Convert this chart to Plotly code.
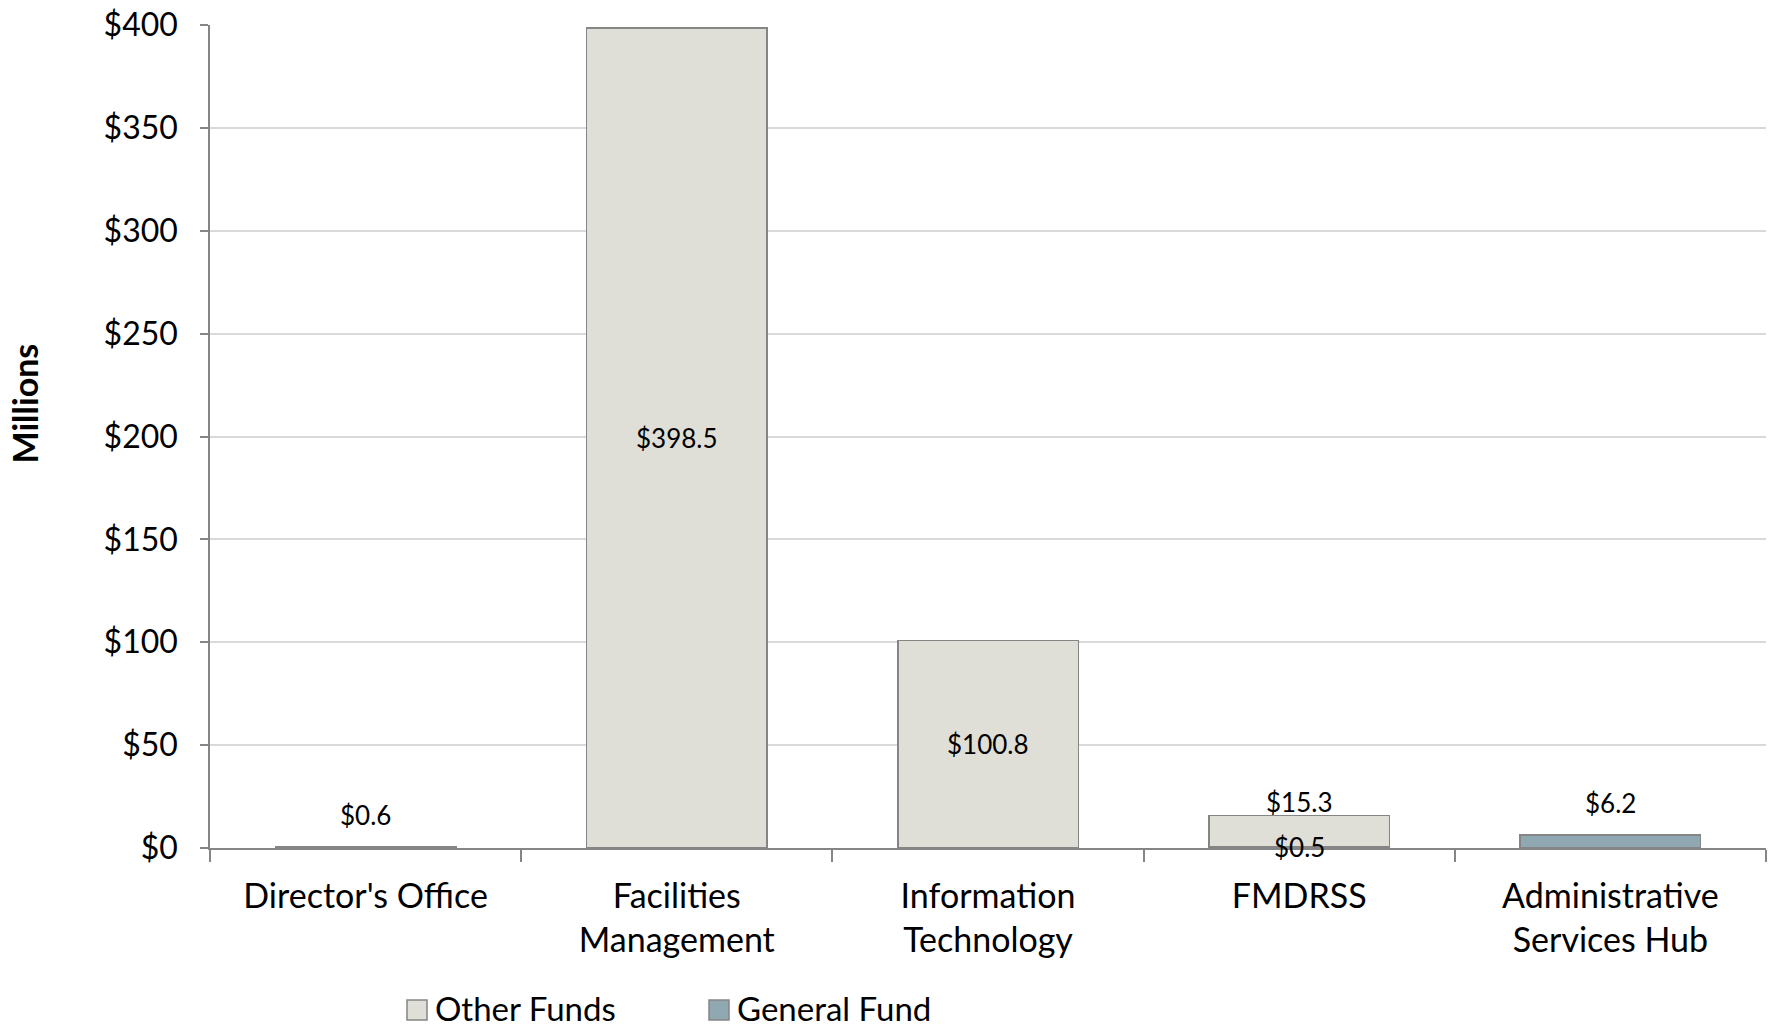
import plotly.graph_objects as go

# Budget by program, in millions of dollars
categories = ["Director's Office", "Facilities<br>Management", "Information<br>Technology",
              "FMDRSS", "Administrative<br>Services Hub"]
general_fund = [0.6, None, None, 0.5, 6.2]
other_funds = [None, 398.5, 100.8, 15.3, None]

y_ticks = [0, 50, 100, 150, 200, 250, 300, 350, 400]
y_tick_labels = ["$" + str(v) for v in y_ticks]

GF_COLOR = "#8FA8B2"
OF_COLOR = "#DFDFD7"
EDGE = "#858585"
FONT = "Lato"

# Plot-area geometry in pixels
W, H = 1772, 1031
M_L, M_R, M_T, M_B = 210, 6, 25, 183
PW = W - M_L - M_R
PH = H - M_T - M_B

fig = go.Figure()
fig.add_trace(go.Bar(
    x=categories, y=general_fund, name="General Fund",
    marker=dict(color=GF_COLOR, line=dict(color=EDGE, width=1.5)),
    hoverinfo="skip",
))
fig.add_trace(go.Bar(
    x=categories, y=other_funds, name="Other Funds",
    marker=dict(color=OF_COLOR, line=dict(color=EDGE, width=1.5)),
    hoverinfo="skip",
))

# Value labels: centred inside tall segments, just above short ones
px_per_unit = PH / 400
annotations = []
for cat, gf, of in zip(categories, general_fund, other_funds):
    gf_v = gf or 0
    if of is not None:
        top = gf_v + of
        if of * px_per_unit > 60:
            annotations.append(dict(x=cat, y=gf_v + of / 2, text=f"${of:.1f}",
                                    showarrow=False, yanchor="middle"))
        else:
            annotations.append(dict(x=cat, y=top, text=f"${of:.1f}",
                                    showarrow=False, yanchor="middle", yshift=13))
    if gf is not None:
        if of is not None:
            annotations.append(dict(x=cat, y=gf / 2, text=f"${gf:.1f}",
                                    showarrow=False, yanchor="middle"))
        else:
            annotations.append(dict(x=cat, y=gf, text=f"${gf:.1f}",
                                    showarrow=False, yanchor="bottom", yshift=14))
for a in annotations:
    a["font"] = dict(family=FONT, size=26, color="#000000")

annotations.append(dict(
    xref="paper", yref="paper", x=-0.119, y=0.54, text="<b>Millions</b>",
    textangle=-90, showarrow=False, xanchor="center", yanchor="middle",
    font=dict(family=FONT, size=34, color="#000000"),
))

# Legend drawn as swatches + labels below the category axis
def px_x(px):
    return (px - M_L) / PW

def px_y(py):
    return (H - M_B - py) / PH

shapes = []
legend_y = 1008
swatch = 20
for name, color, left in [("Other Funds", OF_COLOR, 407), ("General Fund", GF_COLOR, 709)]:
    shapes.append(dict(
        type="rect", xref="paper", yref="paper",
        x0=px_x(left), x1=px_x(left + swatch),
        y0=px_y(legend_y + 2 + swatch / 2), y1=px_y(legend_y + 2 - swatch / 2),
        fillcolor=color, line=dict(color=EDGE, width=1.5),
    ))
    annotations.append(dict(
        xref="paper", yref="paper", x=px_x(left + swatch + 6), y=px_y(legend_y),
        text=name, showarrow=False, xanchor="left", yanchor="middle",
        font=dict(family=FONT, size=33, color="#000000"),
    ))

fig.update_layout(
    width=W, height=H,
    margin=dict(l=M_L, r=M_R, t=M_T, b=M_B, autoexpand=False),
    barmode="stack",
    bargap=0.42,
    plot_bgcolor="white",
    paper_bgcolor="white",
    font=dict(family=FONT, color="#000000"),
    annotations=annotations,
    shapes=shapes,
    showlegend=False,
)

fig.update_yaxes(
    range=[0, 400], tickvals=y_ticks, ticktext=y_tick_labels,
    tickfont=dict(family=FONT, size=32, color="#000000"),
    ticklabelstandoff=16,
    showgrid=True, gridcolor="#D9D9D9", gridwidth=1.5,
    showline=True, linecolor=EDGE, linewidth=1.5,
    ticks="outside", ticklen=8, tickcolor=EDGE, tickwidth=1.5,
    zeroline=False,
)
fig.update_xaxes(
    tickfont=dict(family=FONT, size=34, color="#000000"),
    ticklabelstandoff=17,
    showline=True, linecolor=EDGE, linewidth=1.5,
    ticks="outside", tickson="boundaries", ticklen=12, tickcolor=EDGE, tickwidth=1.5,
    showgrid=False,
)

fig.write_html("out.html")
